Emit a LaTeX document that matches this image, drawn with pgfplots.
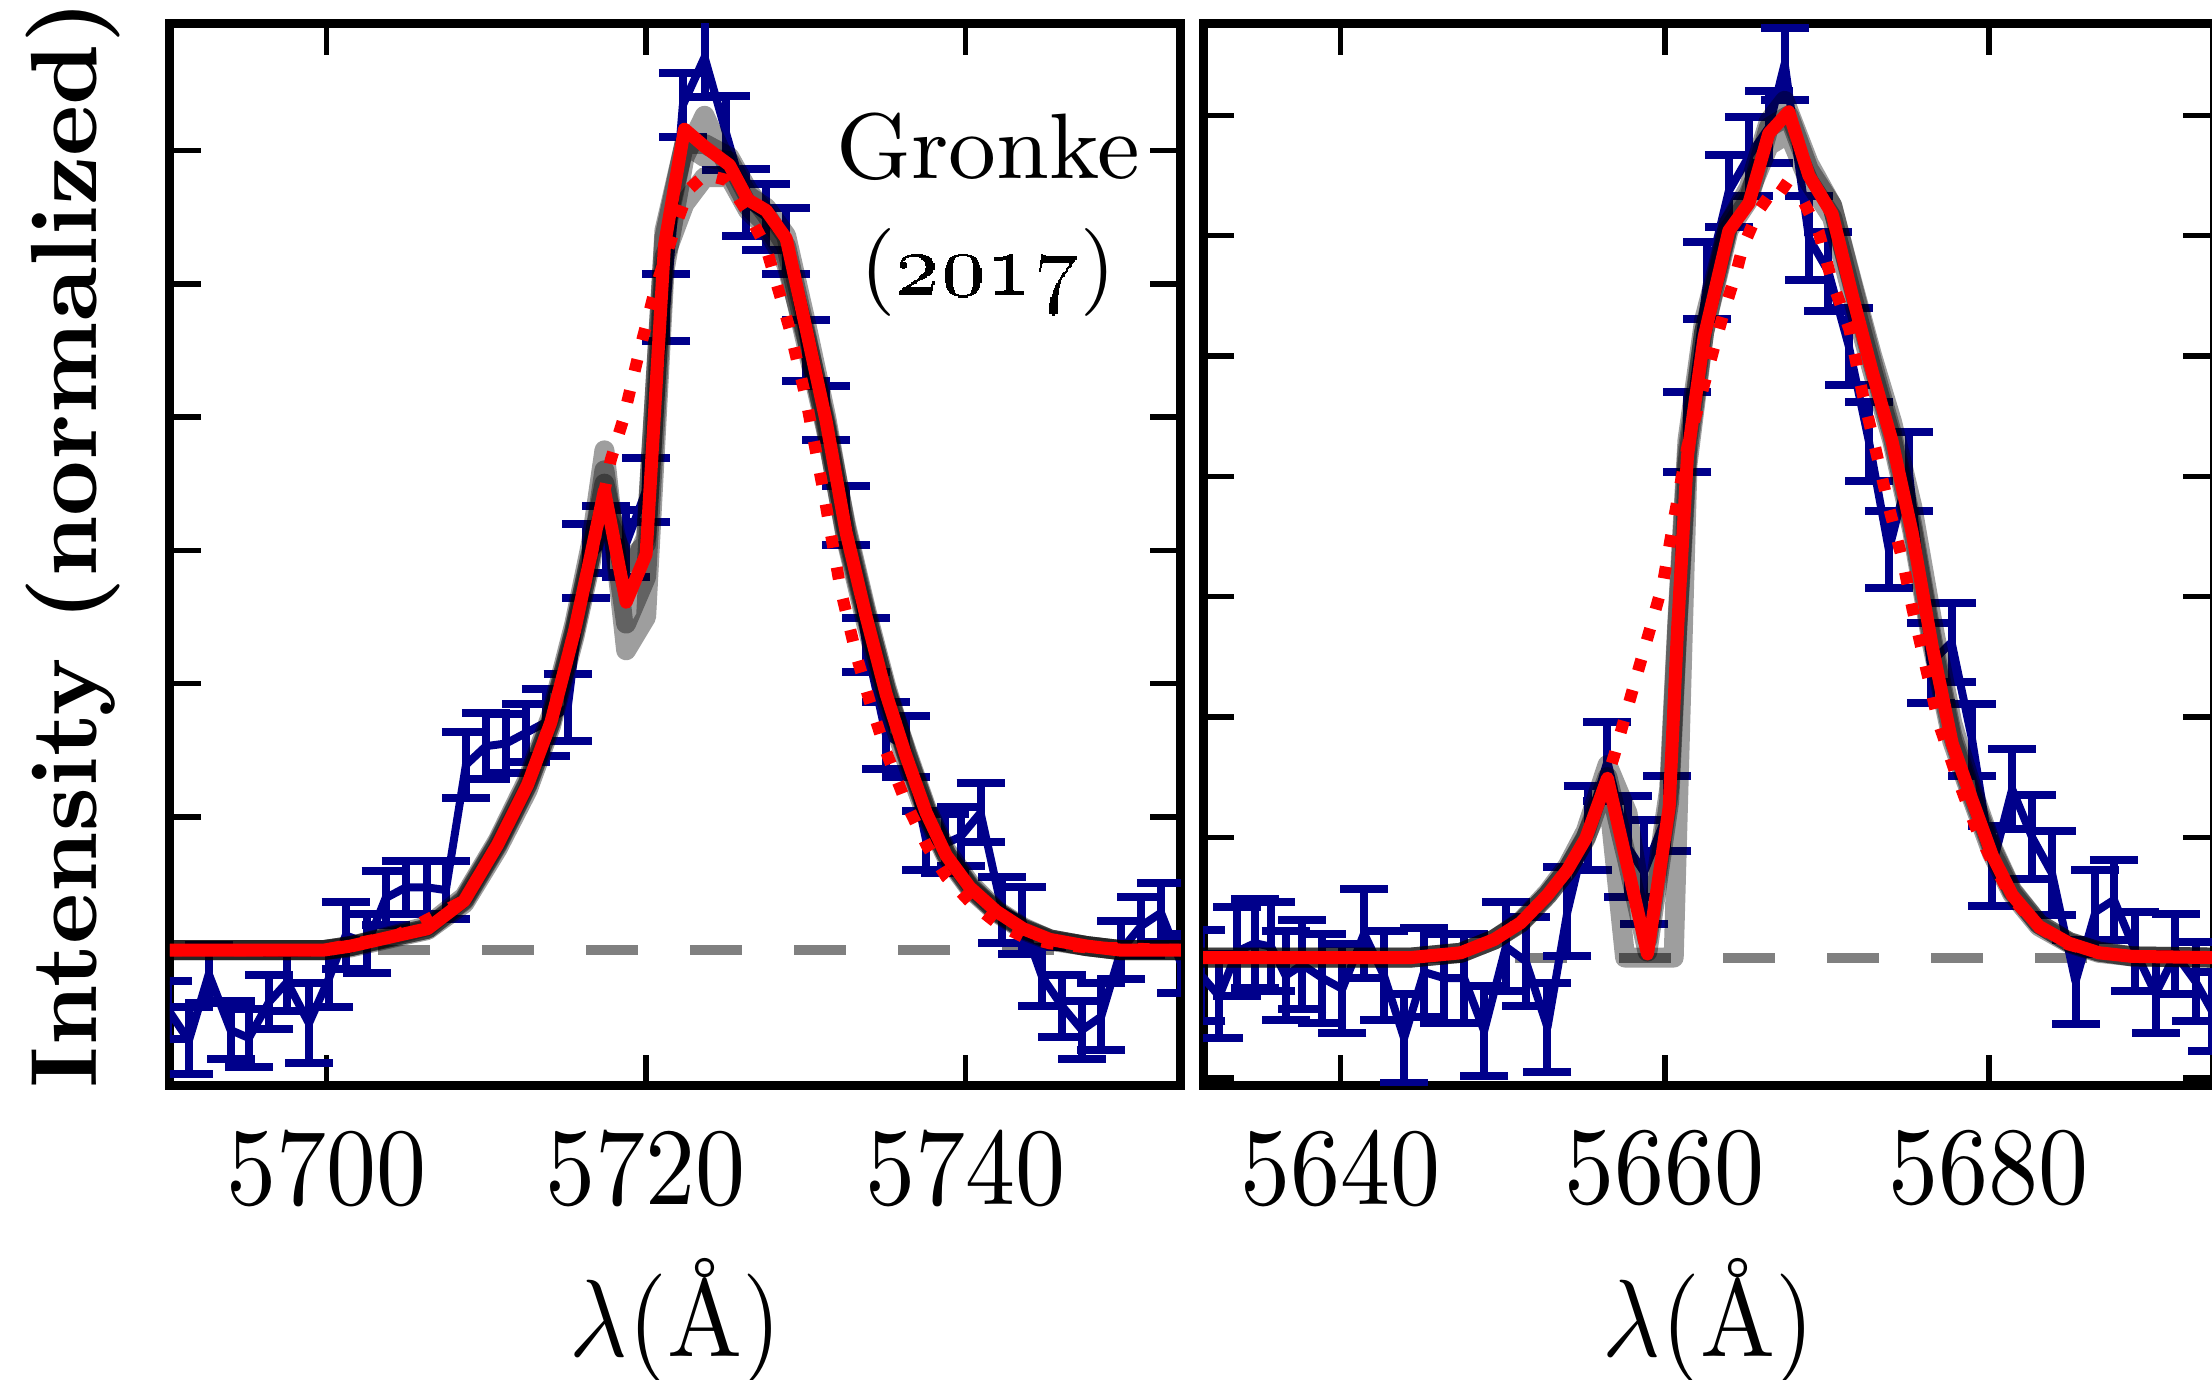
\documentclass[border=0pt]{standalone}
\usepackage{pgfplots}
\pgfplotsset{compat=1.18}
\usepackage{graphicx}
\definecolor{navyb}{RGB}{0,0,139}
\definecolor{dashgray}{RGB}{128,128,128}
\pgfplotsset{
  spec/.style={scale only axis, width=101.1pt, height=106.2pt,
    tick align=inside, major tick length=3.1pt,
    every tick/.style={black, line width=0.55pt},
    axis line style={line width=0.9pt},
    yticklabels={},
    xticklabel style={yshift=-0.9pt, font=\fontsize{10}{12}\selectfont},
    xlabel={\fontsize{10}{12}\selectfont\scalebox{1}[1.1]{$\lambda$(\AA)}},
    xlabel style={at={(axis description cs:0.5,-0.255)}, anchor=base},
  },
  obs/.style={color=navyb, line width=0.8pt, mark=none, line join=round,
    error bars/.cd, y dir=both, y explicit,
    error bar style={line width=0.8pt, navyb},
    error mark options={rotate=90, mark size=2.4pt, line width=0.8pt, navyb}},
  samp/.style={black, opacity=0.38, line width=2pt, line join=round, mark=none},
  model/.style={red, line width=1.3pt, line join=round, mark=none},
  intr/.style={red, line width=1.2pt, dash pattern=on 1.2pt off 2pt, mark=none},
  cont/.style={dashgray, line width=1pt, dash pattern=on 5.2pt off 5.2pt, mark=none},
}
\begin{document}
\begin{tikzpicture}
\path[use as bounding box] (-17.0pt,-29.4pt) rectangle (204.2pt,108.6pt);
% ---------------- left panel ----------------
\begin{axis}[spec, at={(0pt,0pt)}, anchor=south west,
  xmin=5690.2, xmax=5753.5, ymin=-1.02, ymax=6.95,
  xtick={5700,5720,5740},
  xticklabels={\scalebox{1}[1.1]{5700},\scalebox{1}[1.1]{5720},\scalebox{1}[1.1]{5740}},
  ytick={-1,0,1,2,3,4,5,6},
  ylabel={\fontsize{9.4}{11}\selectfont\bfseries Intensity (normalized)},
  ylabel style={at={(axis description cs:-0.096,0.51)}, anchor=center},
]
\addplot[cont] coordinates {(5690.2,0) (5753.5,0)};
\addplot[obs] table[x index=0, y index=1, y error index=2, row sep=\\] {
5690.10 -0.45 0.22\\
5691.38 -0.68 0.25\\
5692.63 -0.18 0.22\\
5693.99 -0.60 0.22\\
5695.14 -0.66 0.22\\
5696.40 -0.39 0.20\\
5697.54 -0.24 0.22\\
5698.90 -0.55 0.30\\
5700.16 -0.21 0.22\\
5701.20 0.11 0.25\\
5702.56 0.05 0.22\\
5703.70 0.39 0.20\\
5704.96 0.47 0.20\\
5706.32 0.47 0.20\\
5707.47 0.45 0.22\\
5708.73 1.39 0.25\\
5709.98 1.53 0.25\\
5711.23 1.55 0.22\\
5712.49 1.63 0.22\\
5713.74 1.71 0.25\\
5715.10 1.82 0.25\\
5716.25 2.92 0.28\\
5717.50 3.08 0.25\\
5718.76 3.05 0.25\\
5720.01 3.45 0.24\\
5721.27 4.82 0.25\\
5722.31 6.34 0.24\\
5723.67 6.70 0.30\\
5725.02 6.13 0.28\\
5726.27 5.61 0.25\\
5727.53 5.50 0.25\\
5728.78 5.32 0.25\\
5730.03 4.50 0.23\\
5731.28 4.03 0.20\\
5732.54 3.26 0.22\\
5733.79 2.29 0.20\\
5735.04 1.61 0.25\\
5736.30 1.53 0.23\\
5737.55 0.82 0.22\\
5738.75 0.80 0.22\\
5739.70 0.85 0.22\\
5740.95 1.03 0.22\\
5742.30 0.30 0.25\\
5743.55 0.22 0.25\\
5744.80 -0.20 0.22\\
5746.05 -0.42 0.23\\
5747.30 -0.60 0.22\\
5748.50 -0.50 0.25\\
5749.75 0.00 0.22\\
5751.00 0.18 0.22\\
5752.25 0.28 0.22\\
5753.50 -0.10 0.22\\
};
% model samples
\addplot[samp] coordinates {(5690.2,0) (5699.84,0) (5701.52,0.03) (5704.44,0.12) (5706.32,0.18) (5708.62,0.40) (5710.71,0.82) (5712.59,1.28) (5714.05,1.76) (5715.52,2.45) (5716.56,3.05) (5717.40,3.75) (5718.76,2.25) (5720.01,2.50) (5721.16,5.10) (5722.41,5.95) (5723.67,6.26) (5725.23,5.85) (5726.39,5.58) (5727.53,5.45) (5728.78,5.20) (5730.03,4.55) (5731.28,3.90) (5732.54,3.10) (5733.79,2.50) (5735.04,1.95) (5736.30,1.50) (5737.55,1.07) (5738.80,0.75) (5740.28,0.50) (5741.95,0.30) (5743.62,0.17) (5745.29,0.08) (5747.59,0.03) (5749.69,0) (5753.5,0)};
\addplot[samp] coordinates {(5690.2,0) (5699.84,0) (5701.52,0.02) (5704.44,0.10) (5706.32,0.15) (5708.62,0.35) (5710.71,0.76) (5712.59,1.20) (5714.05,1.68) (5715.52,2.35) (5716.56,2.92) (5717.40,3.60) (5718.76,2.45) (5720.01,2.80) (5721.16,5.20) (5722.41,5.60) (5723.67,5.80) (5725.23,5.80) (5726.39,5.55) (5727.53,5.42) (5728.78,5.15) (5730.03,4.60) (5731.28,3.95) (5732.54,3.18) (5733.79,2.55) (5735.04,1.98) (5736.30,1.48) (5737.55,1.05) (5738.80,0.72) (5740.28,0.47) (5741.95,0.29) (5743.62,0.16) (5745.29,0.08) (5747.59,0.03) (5749.69,0) (5753.5,0)};
\addplot[samp] coordinates {(5690.2,0) (5699.84,0) (5701.52,0.03) (5704.44,0.11) (5706.32,0.16) (5708.62,0.37) (5710.71,0.79) (5712.59,1.24) (5714.05,1.71) (5715.52,2.39) (5716.56,2.97) (5717.40,3.50) (5718.76,2.75) (5720.01,3.10) (5721.16,5.35) (5722.41,6.05) (5723.67,5.95) (5725.23,5.92) (5726.39,5.66) (5727.53,5.57) (5728.78,5.36) (5730.03,4.70) (5731.28,4.00) (5732.54,3.15) (5733.79,2.52) (5735.04,1.94) (5736.30,1.47) (5737.55,1.04) (5738.80,0.72) (5740.28,0.48) (5741.95,0.29) (5743.62,0.16) (5745.29,0.08) (5747.59,0.03) (5749.69,0) (5753.5,0)};
\addplot[samp] coordinates {(5690.2,0) (5699.84,0) (5701.52,0.03) (5704.44,0.11) (5706.32,0.16) (5708.62,0.38) (5710.71,0.80) (5712.59,1.25) (5714.05,1.72) (5715.52,2.40) (5716.56,2.98) (5717.40,3.30) (5718.76,2.90) (5720.01,3.05) (5721.16,5.40) (5722.41,6.05) (5723.67,6.05) (5725.23,5.95) (5726.39,5.70) (5727.53,5.52) (5728.78,5.28) (5730.03,4.62) (5731.28,3.92) (5732.54,3.08) (5733.79,2.45) (5735.04,1.88) (5736.30,1.42) (5737.55,1.01) (5738.80,0.70) (5740.28,0.46) (5741.95,0.28) (5743.62,0.15) (5745.29,0.07) (5747.59,0.03) (5749.69,0) (5753.5,0)};
% intrinsic (dotted)
\addplot[intr] coordinates {(5690.2,0) (5699.8,0) (5704.4,0.11) (5708.6,0.37) (5710.7,0.79) (5712.6,1.24) (5714.05,1.71) (5715.5,2.39) (5716.6,2.97) (5717.8,3.68) (5718.55,3.97) (5719.5,4.45) (5720.6,4.97) (5721.9,5.45) (5722.7,5.71) (5723.7,5.82) (5725.0,5.78) (5726.3,5.55) (5727.5,5.28) (5728.5,4.87) (5729.0,4.66) (5730.0,4.15) (5731.1,3.45) (5732.2,2.70) (5733.2,2.20) (5734.0,1.87) (5735.0,1.50) (5736.3,1.10) (5737.6,0.78) (5738.8,0.55) (5740.3,0.36) (5742.0,0.20) (5743.6,0.10) (5745.3,0.05) (5747.6,0.02) (5753.5,0)};
% best model
\addplot[model] coordinates {(5690.2,0) (5699.84,0) (5701.52,0.03) (5704.44,0.11) (5706.32,0.16) (5708.62,0.37) (5710.71,0.79) (5712.59,1.24) (5714.05,1.71) (5715.52,2.39) (5716.56,2.97) (5717.40,3.45) (5718.76,2.61) (5720.01,2.97) (5721.16,5.29) (5722.41,6.16) (5723.67,6.03) (5725.23,5.89) (5726.39,5.63) (5727.53,5.55) (5728.78,5.34) (5730.03,4.66) (5731.28,3.97) (5732.54,3.13) (5733.79,2.50) (5735.04,1.92) (5736.30,1.45) (5737.55,1.03) (5738.80,0.71) (5740.28,0.47) (5741.95,0.29) (5743.62,0.16) (5745.29,0.08) (5747.59,0.03) (5749.69,0) (5753.5,0)};
\node[anchor=base, font=\fontsize{9.3}{11}\selectfont] at (rel axis cs:0.809,0.854) {Gronke};
\node[anchor=base, font=\fontsize{8.8}{11}\selectfont] at (rel axis cs:0.809,0.745) {(\oldstylenums{2017})};
\end{axis}
% ---------------- right panel ----------------
\begin{axis}[spec, at={(103.3pt,0pt)}, anchor=south west,
  xmin=5631.5, xmax=5693.9, ymin=-1.067, ymax=7.76,
  xtick={5640,5660,5680},
  xticklabels={\scalebox{1}[1.1]{5640},\scalebox{1}[1.1]{5660},\scalebox{1}[1.1]{5680}},
  ytick={-1,0,1,2,3,4,5,6,7},
]
\addplot[cont] coordinates {(5631.5,0) (5693.9,0)};
\addplot[obs] table[x index=0, y index=1, y error index=2, row sep=\\] {
5631.40 -0.15 0.38\\
5632.50 -0.32 0.35\\
5633.60 0.05 0.37\\
5634.70 0.12 0.37\\
5635.70 0.09 0.37\\
5636.60 -0.15 0.37\\
5637.63 -0.06 0.37\\
5638.87 -0.17 0.37\\
5640.10 -0.26 0.37\\
5641.44 0.20 0.37\\
5642.67 -0.15 0.37\\
5643.91 -0.67 0.37\\
5645.14 -0.12 0.37\\
5646.38 -0.17 0.37\\
5647.61 -0.17 0.37\\
5648.85 -0.61 0.37\\
5650.19 0.09 0.37\\
5651.42 -0.03 0.37\\
5652.76 -0.58 0.37\\
5653.99 0.38 0.37\\
5655.23 1.08 0.35\\
5656.46 1.63 0.33\\
5657.70 0.92 0.42\\
5658.72 0.71 0.43\\
5660.16 1.20 0.31\\
5661.40 4.37 0.33\\
5662.63 5.63 0.32\\
5663.95 6.37 0.30\\
5665.19 6.66 0.33\\
5666.42 6.90 0.30\\
5667.40 7.43 0.30\\
5668.90 5.98 0.35\\
5670.10 5.70 0.33\\
5671.36 5.08 0.32\\
5672.60 4.29 0.33\\
5673.83 3.39 0.32\\
5675.06 4.04 0.33\\
5676.40 2.45 0.33\\
5677.70 2.62 0.33\\
5678.97 1.81 0.30\\
5680.21 0.76 0.33\\
5681.44 1.40 0.33\\
5682.67 1.00 0.35\\
5683.90 0.70 0.35\\
5685.35 -0.20 0.35\\
5686.58 0.38 0.35\\
5687.72 0.48 0.33\\
5689.05 0.05 0.33\\
5690.29 -0.30 0.33\\
5691.52 0.03 0.33\\
5692.76 -0.20 0.33\\
5693.80 -0.45 0.33\\
};
\addplot[samp] coordinates {(5631.5,0) (5644.32,0) (5647.41,0.04) (5649.47,0.15) (5651.11,0.29) (5652.76,0.52) (5653.99,0.73) (5655.12,1.00) (5656.46,1.42) (5657.55,0.00) (5660.55,0.00) (5661.40,4.10) (5662.43,5.20) (5663.95,6.10) (5665.19,6.40) (5666.42,6.95) (5667.40,7.12) (5668.89,6.60) (5670.33,6.25) (5671.56,5.60) (5672.80,4.95) (5674.03,4.35) (5675.27,3.60) (5676.50,2.65) (5677.74,1.85) (5678.97,1.35) (5680.21,0.90) (5681.44,0.55) (5683.09,0.28) (5684.94,0.13) (5686.79,0.05) (5688.85,0.01) (5693.9,0)};
\addplot[samp] coordinates {(5631.5,0) (5644.32,0) (5647.41,0.04) (5649.47,0.15) (5651.11,0.30) (5652.76,0.54) (5653.99,0.76) (5655.12,1.05) (5656.46,1.60) (5657.70,1.20) (5658.93,0.15) (5660.27,1.40) (5660.78,2.80) (5661.40,4.30) (5662.43,5.30) (5663.95,6.10) (5665.19,6.35) (5666.42,6.75) (5667.65,6.85) (5668.89,6.45) (5670.33,6.15) (5671.56,5.50) (5672.80,4.88) (5674.03,4.30) (5675.27,3.55) (5676.50,2.60) (5677.74,1.80) (5678.97,1.32) (5680.21,0.86) (5681.44,0.53) (5683.09,0.26) (5684.94,0.12) (5686.79,0.04) (5688.85,0.01) (5693.9,0)};
\addplot[samp] coordinates {(5631.5,0) (5644.32,0) (5647.41,0.04) (5649.47,0.15) (5651.11,0.29) (5652.76,0.52) (5653.99,0.73) (5655.12,0.99) (5656.46,1.50) (5657.70,0.80) (5658.93,0.05) (5660.27,1.30) (5660.78,2.75) (5661.40,4.20) (5662.43,5.20) (5663.95,6.05) (5665.19,6.30) (5666.42,6.90) (5667.65,7.00) (5668.89,6.55) (5670.33,6.25) (5671.56,5.62) (5672.80,5.00) (5674.03,4.45) (5675.27,3.75) (5676.50,2.80) (5677.74,1.95) (5678.97,1.40) (5680.21,0.92) (5681.44,0.56) (5683.09,0.28) (5684.94,0.13) (5686.79,0.05) (5688.85,0.01) (5693.9,0)};
\addplot[intr] coordinates {(5631.5,0) (5644.3,0) (5647.4,0.04) (5649.5,0.15) (5651.1,0.29) (5652.8,0.52) (5654.0,0.73) (5655.1,0.99) (5656.0,1.30) (5656.9,1.69) (5657.5,1.98) (5658.3,2.36) (5659.3,2.83) (5659.9,3.12) (5660.6,3.67) (5661.4,4.25) (5662.3,4.70) (5663.1,5.10) (5663.7,5.39) (5664.4,5.69) (5664.8,5.90) (5665.8,6.21) (5667.0,6.44) (5668.5,6.30) (5669.5,6.03) (5670.3,5.63) (5671.4,5.22) (5672.2,4.69) (5673.0,4.23) (5673.8,3.76) (5674.7,3.29) (5675.3,2.89) (5676.1,2.42) (5676.9,1.95) (5677.9,1.55) (5679.2,1.08) (5680.2,0.80) (5681.4,0.50) (5683.1,0.25) (5684.9,0.11) (5686.8,0.04) (5688.9,0.01) (5693.9,0)};
\addplot[model] coordinates {(5631.5,0) (5644.32,0) (5647.41,0.04) (5649.47,0.15) (5651.11,0.29) (5652.76,0.52) (5653.99,0.73) (5655.12,0.99) (5656.46,1.49) (5657.70,0.76) (5658.93,0.03) (5660.27,1.25) (5660.78,2.71) (5661.40,4.17) (5662.43,5.16) (5663.95,6.04) (5665.19,6.27) (5666.42,6.85) (5667.65,7.03) (5668.89,6.50) (5670.33,6.18) (5671.56,5.51) (5672.80,4.87) (5674.03,4.29) (5675.27,3.53) (5676.50,2.59) (5677.74,1.78) (5678.97,1.31) (5680.21,0.85) (5681.44,0.52) (5683.09,0.26) (5684.94,0.12) (5686.79,0.04) (5688.85,0.01) (5693.9,0)};
\end{axis}
\end{tikzpicture}
\end{document}
